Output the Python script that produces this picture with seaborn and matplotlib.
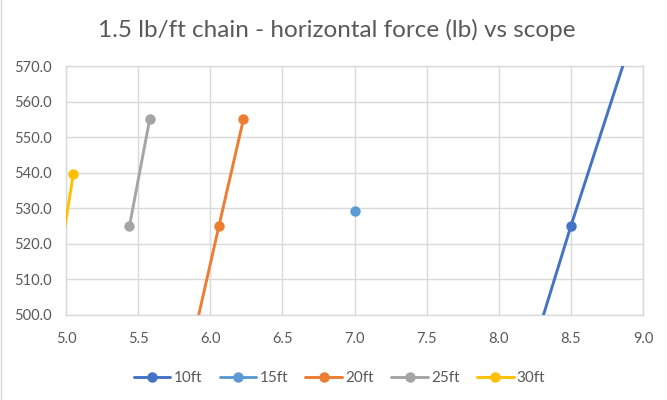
import matplotlib
matplotlib.use("Agg")
import matplotlib.pyplot as plt
import seaborn as sns
import pandas as pd
from matplotlib.lines import Line2D

# Data (scope vs horizontal force), per series
series_names = ["10ft", "15ft", "20ft", "25ft", "30ft"]
scope_10 = [8.12, 8.50, 8.98]
force_10 = [475.0, 525.0, 585.0]
scope_15 = [7.00]
force_15 = [529.2]
scope_20 = [5.78, 6.06, 6.23]
force_20 = [475.0, 525.0, 555.0]
scope_25 = [5.44, 5.58]
force_25 = [525.0, 555.0]
scope_30 = [4.95, 5.05]
force_30 = [514.0, 539.5]

x_ticks = [5.0, 5.5, 6.0, 6.5, 7.0, 7.5, 8.0, 8.5, 9.0]
y_ticks = [500.0, 510.0, 520.0, 530.0, 540.0, 550.0, 560.0, 570.0]

colors = ["#4472C4", "#5B9BD5", "#ED7D31", "#A5A5A5", "#FFC000"]

sns.set_theme(style="white")
plt.rcParams["font.family"] = ["Lato", "DejaVu Sans"]

fig = plt.figure(figsize=(6.67, 4.0), dpi=100)
ax = fig.add_axes([66/667, 1-315/400, (643-66)/667, (315-66)/400])

all_x = [scope_10, scope_15, scope_20, scope_25, scope_30]
all_y = [force_10, force_15, force_20, force_25, force_30]
for name, xs, ys, c in zip(series_names, all_x, all_y, colors):
    df = pd.DataFrame({"scope": xs, "force": ys})
    sns.lineplot(data=df, x="scope", y="force", ax=ax, color=c, sort=False,
                 estimator=None, linewidth=2.1, marker="o", markersize=7.5,
                 markeredgewidth=0, label=name, legend=False, zorder=3)

ax.set_xlim(5.0, 9.0)
ax.set_ylim(500.0, 570.0)
ax.set_xticks(x_ticks)
ax.set_yticks(y_ticks)
ax.set_xticklabels([f"{v:.1f}" for v in x_ticks])
ax.set_yticklabels([f"{v:.1f}" for v in y_ticks])
ax.tick_params(axis="both", length=0, labelsize=10.5, labelcolor="#595959")
ax.tick_params(axis="y", pad=10)
ax.tick_params(axis="x", pad=12)
ax.grid(True, color="#D9D9D9", linewidth=1.0)
for s in ax.spines.values():
    s.set_color("#D9D9D9")
    s.set_linewidth(1.0)
ax.set_xlabel("")
ax.set_ylabel("")

fig.text(0.505, 1-30/400, "1.5 lb/ft chain - horizontal force (lb) vs scope",
         ha="center", va="center", fontsize=17.5, color="#595959")

handles = [Line2D([0], [0], color=c, linewidth=2.1, marker="o", markersize=7.5,
                  markeredgewidth=0) for c in colors]
leg = fig.legend(handles, series_names, loc="center", bbox_to_anchor=(0.509, 1-378/400),
                 ncol=5, frameon=False, fontsize=11, handlelength=2.4,
                 handletextpad=0.2, columnspacing=1.15, labelcolor="#595959")

fig.add_artist(Line2D([1.5/667, 1.5/667], [0, 1], color="#D9D9D9", linewidth=1.0))

fig.savefig("out.png", dpi=100)
